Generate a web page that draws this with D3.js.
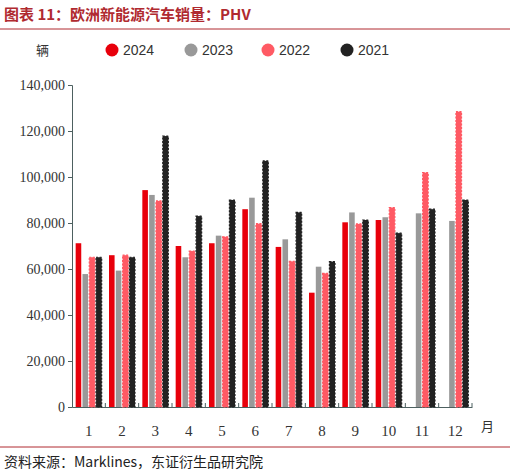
<!DOCTYPE html>
<html><head><meta charset="utf-8">
<script src="https://cdn.jsdelivr.net/npm/d3@7"></script>
<style>body{margin:0;background:#fff}</style>
</head><body><div id="chart"></div>
<script>
const months = ["1","2","3","4","5","6","7","8","9","10","11","12"];
const years = ["2024","2023","2022","2021"];
const v2024 = [71200,66000,94300,70000,71200,86000,69600,49700,80300,81300,null,null];
const v2023 = [57800,59300,92200,65100,74500,91000,72900,61000,84600,82500,84200,80900];
const v2022 = [65100,66000,89600,67800,74000,79700,63300,58100,79600,86700,101900,128400];
const v2021 = [65100,65100,117800,83000,90000,107000,84600,63200,81300,75600,86000,90000];
const yTicks = [0,20000,40000,60000,80000,100000,120000,140000];
const series = [v2024,v2023,v2022,v2021];
const colors = ["#e8000b","#999999","#ff5a64","#222222"];

const svg = d3.select("#chart").append("svg").attr("width",510).attr("height",475);
const serif = "'Liberation Serif','DejaVu Serif',serif";
const cjk = "'Noto Sans CJK SC',sans-serif";

// title
svg.append("text").attr("x",4).attr("y",20).attr("font-family",cjk).attr("font-weight","bold")
  .attr("font-size",15).attr("fill","#b02a30").text("图表 11：欧洲新能源汽车销量：PHV");
svg.append("line").attr("x1",0).attr("x2",510).attr("y1",29).attr("y2",29).attr("stroke","#b02a30").attr("stroke-width",1);

// legend
svg.append("text").attr("x",36).attr("y",55).attr("font-family",cjk).attr("font-size",13).attr("fill","#333").text("辆");
const lx = [112,191,268,347];
years.forEach((y,i)=>{
  svg.append("circle").attr("cx",lx[i]).attr("cy",50).attr("r",6.5).attr("fill",colors[i]);
  svg.append("text").attr("x",lx[i]+11).attr("y",55).attr("font-family","'Liberation Sans',sans-serif")
    .attr("font-size",14).attr("fill","#333").text(y);
});

const margin = {left:72, top:85, right:472, bottom:407};
const x = d3.scaleBand().domain(months).range([margin.left, margin.right]);
const y = d3.scaleLinear().domain([0,140000]).range([margin.bottom, margin.top]);
const inner = d3.scaleBand().domain(years).range([0,26]).paddingInner(0.18);

const yAxis = svg.append("g").attr("transform",`translate(${margin.left},0)`)
  .call(d3.axisLeft(y).tickValues(yTicks).tickSize(4).tickFormat(d3.format(",")));
const xAxis = svg.append("g").attr("transform",`translate(0,${margin.bottom})`)
  .call(d3.axisBottom(x).tickSize(0).tickFormat(""));
[yAxis,xAxis].forEach(a=>{a.selectAll("path,line").attr("stroke","#4d6060");});
yAxis.selectAll("text").attr("font-family",serif).attr("font-size",14).attr("fill","#333");

// x ticks between categories
svg.append("g").selectAll("line").data(months).enter().append("line")
  .attr("x1",d=>x(d)+x.bandwidth()).attr("x2",d=>x(d)+x.bandwidth())
  .attr("y1",margin.bottom).attr("y2",margin.bottom-4).attr("stroke","#4d6060");
svg.append("g").selectAll("text").data(months).enter().append("text")
  .attr("x",d=>x(d)+x.bandwidth()/2).attr("y",436).attr("text-anchor","middle")
  .attr("font-family",serif).attr("font-size",15).attr("fill","#333").text(d=>d);
svg.append("text").attr("x",481).attr("y",431).attr("font-family",cjk).attr("font-size",13).attr("fill","#333").text("月");

// bars
const off = (x.bandwidth()-26)/2;
series.forEach((vals,i)=>{
  const g = svg.append("g");
  g.selectAll("rect").data(months.map((m,j)=>({m,v:vals[j]})).filter(d=>d.v!=null)).enter().append("rect")
    .attr("x",d=>x(d.m)+off+inner(years[i]))
    .attr("y",d=>y(d.v)).attr("width",inner.bandwidth())
    .attr("height",d=>margin.bottom-y(d.v)).attr("fill",colors[i])
    .attr("stroke",i>=2?colors[i]:"none").attr("stroke-width",i>=2?1.2:0)
    .attr("stroke-dasharray",i>=2?"2,1.5":null);
});

// footer
svg.append("line").attr("x1",0).attr("x2",510).attr("y1",447).attr("y2",447).attr("stroke","#b02a30").attr("stroke-width",1);
svg.append("text").attr("x",4).attr("y",467).attr("font-family",cjk).attr("font-size",14).attr("fill","#222")
  .text("资料来源：Marklines，东证衍生品研究院");
</script></body></html>
